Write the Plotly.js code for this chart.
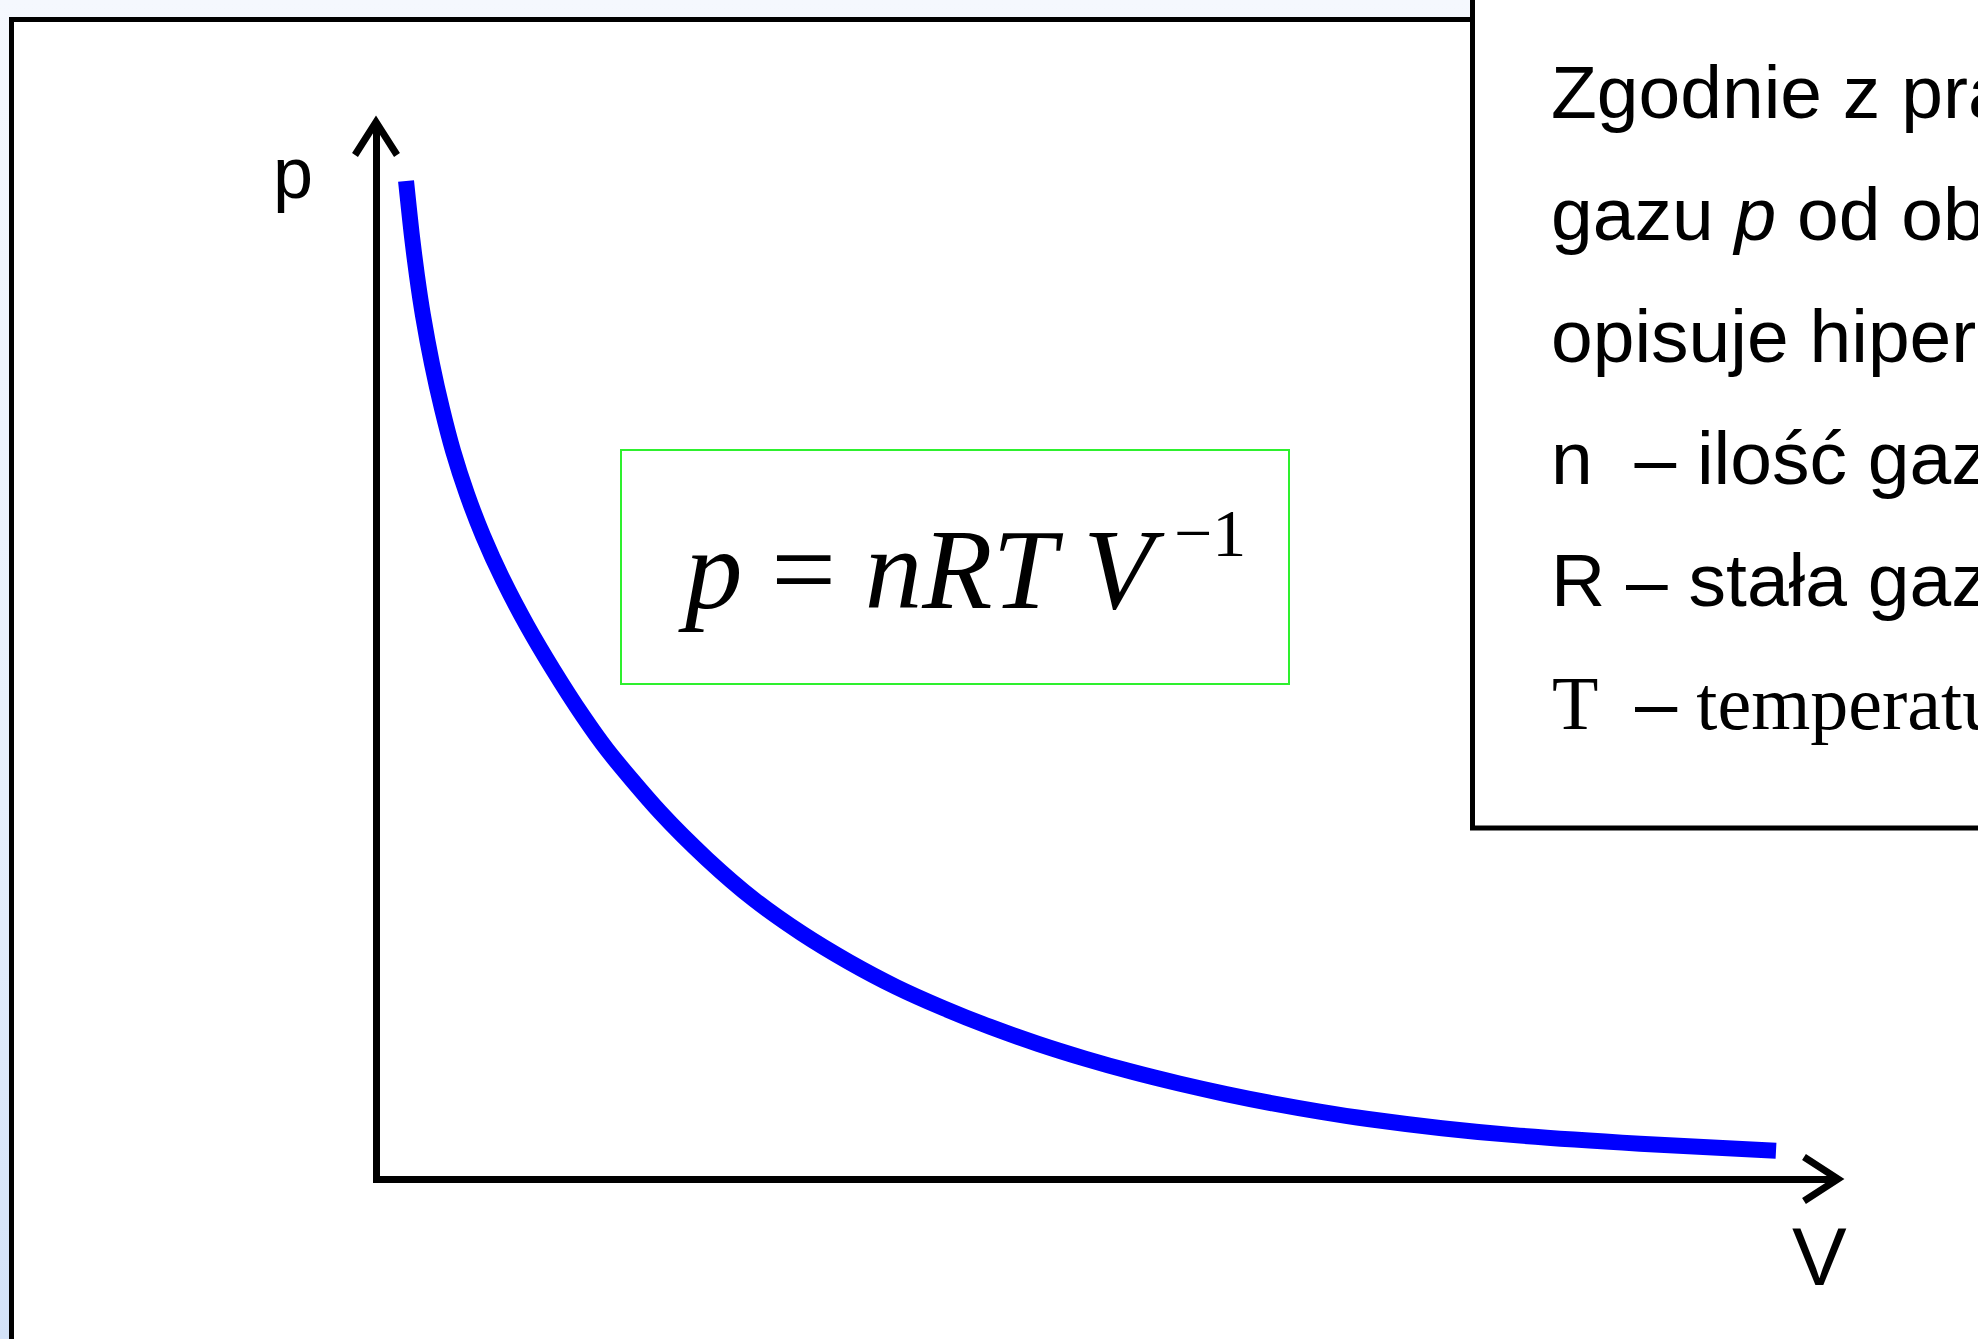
<!DOCTYPE html>
<html>
<head>
<meta charset="utf-8">
<script src="https://cdn.plot.ly/plotly-3.0.1.min.js"></script>
<style>
  html, body { margin: 0; padding: 0; overflow: hidden; }
  body { width: 1978px; height: 1339px; background: linear-gradient(to bottom, #f5f8fe 0%, #e6effc 60%, #d3e2f8 100%); }
  #chart { width: 1978px; height: 1339px; }
</style>
</head>
<body>
<div id="chart"></div>
<script>
// ---- data ----
const volume   = [0.182, 0.223, 0.257, 0.298, 0.360, 0.429, 0.504, 0.600, 0.710, 0.847, 1.011, 1.190, 1.395, 1.560, 1.923, 2.246, 2.568, 2.897, 3.219, 3.541, 3.864, 4.186, 4.515, 4.837, 5.160, 5.482, 5.805, 6.134, 6.456, 6.778, 7.285, 7.779, 8.643, 9.575];
const pressure = [9.440, 8.910, 8.540, 8.164, 7.703, 7.276, 6.879, 6.467, 6.072, 5.654, 5.222, 4.802, 4.361, 4.042, 3.450, 3.004, 2.620, 2.297, 2.027, 1.791, 1.590, 1.411, 1.250, 1.110, 0.984, 0.873, 0.773, 0.682, 0.604, 0.536, 0.449, 0.383, 0.302, 0.234];
const xRange = [0, 10];
const yRange = [0, 10];
const axisLabelY = "p";
const axisLabelX = "V";
const formulaMain = "<i>p</i> = <i>nRT V</i>";
const formulaSup = "−1";
const textLines = [
  "Zgodnie z prawem",
  "gazu <i>p</i> od objętości",
  "opisuje hiperbola",
  "n  – ilość gazu",
  "R – stała gazowa"
];
const lastLine = "T  <span style=\"font-family:'Liberation Sans', Arial, sans-serif\">–</span> temperatura";

// ---- page geometry helpers ----
const W = 1978, H = 1339;
const px = x => x / W;
const py = y => 1 - y / H;
const SANS = "Liberation Sans, Arial, sans-serif";
const SERIF = "Liberation Serif, Times New Roman, serif";
const AXIS_LW = 7;
const xDomain = [px(376 + AXIS_LW / 2), px(1838)];
const yDomain = [py(1179 - AXIS_LW / 2), py(122)];

const trace = {
  x: volume, y: pressure,
  type: "scatter", mode: "lines",
  line: { color: "#0000ff", width: 16, shape: "spline", smoothing: 0.8 },
  hoverinfo: "skip", showlegend: false
};

const shapes = [
  // outer white frame
  { type: "rect", xref: "paper", yref: "paper", layer: "below",
    x0: px(11.5), x1: px(2100), y0: py(19.5), y1: py(1500),
    fillcolor: "#ffffff", line: { color: "#000000", width: 5 } },
  // text box
  { type: "rect", xref: "paper", yref: "paper", layer: "below",
    x0: px(1472.5), x1: px(2100), y0: py(-20), y1: py(828),
    fillcolor: "#ffffff", line: { color: "#000000", width: 5 } },
  // formula box
  { type: "rect", xref: "paper", yref: "paper", layer: "above",
    x0: px(621), x1: px(1289), y0: py(450), y1: py(684),
    fillcolor: "rgba(0,0,0,0)", line: { color: "#2ef02e", width: 2 } },
  // arrow heads at the ends of the axes
  { type: "path", xref: "paper", yref: "paper", xsizemode: "pixel", ysizemode: "pixel",
    xanchor: px(1838), yanchor: py(1179),
    path: "M -34 22 L 0 0 L -34 -22", line: { color: "#000000", width: AXIS_LW } },
  { type: "path", xref: "paper", yref: "paper", xsizemode: "pixel", ysizemode: "pixel",
    xanchor: px(376), yanchor: py(122),
    path: "M -21 -33 L 0 0 L 21 -33", line: { color: "#000000", width: AXIS_LW } }
];

const lineBaselines = [118, 240, 362, 484, 606];
const annotations = [];
textLines.forEach((t, i) => {
  annotations.push({ xref: "paper", yref: "paper", x: px(1549), y: py(lineBaselines[i] - 0.3465 * 75),
    xanchor: "left", yanchor: "middle", showarrow: false, text: t,
    font: { family: SANS, size: 75, color: "#000000" } });
});
annotations.push({ xref: "paper", yref: "paper", x: px(1550), y: py(728 - 0.3375 * 76),
  xanchor: "left", yanchor: "middle", showarrow: false, text: lastLine,
  font: { family: SERIF, size: 76, color: "#000000" } });
annotations.push({ xref: "paper", yref: "paper", x: px(293), y: py(198 - 0.3465 * 72),
  xanchor: "center", yanchor: "middle", showarrow: false, text: axisLabelY,
  font: { family: SANS, size: 72, color: "#000000" } });
annotations.push({ xref: "paper", yref: "paper", x: px(1819), y: py(1285 - 0.3465 * 82),
  xanchor: "center", yanchor: "middle", showarrow: false, text: axisLabelX,
  font: { family: SANS, size: 82, color: "#000000" } });
annotations.push({ xref: "paper", yref: "paper", x: px(676), y: py(608 - 0.3375 * 115),
  xanchor: "left", yanchor: "middle", showarrow: false, text: formulaMain,
  font: { family: SERIF, size: 115, color: "#000000" } });
annotations.push({ xref: "paper", yref: "paper", x: px(1172), y: py(556 - 0.3375 * 68),
  xanchor: "left", yanchor: "middle", showarrow: false, text: formulaSup,
  font: { family: SERIF, size: 68, color: "#000000" } });

const layout = {
  width: W, height: H,
  margin: { l: 0, r: 0, t: 0, b: 0, pad: 0 },
  paper_bgcolor: "rgba(0,0,0,0)",
  plot_bgcolor: "rgba(0,0,0,0)",
  showlegend: false,
  xaxis: { domain: xDomain, range: xRange, showline: true, linewidth: AXIS_LW, linecolor: "#000000",
           showgrid: false, zeroline: false, showticklabels: false, ticks: "", fixedrange: true },
  yaxis: { domain: yDomain, range: yRange, showline: true, linewidth: AXIS_LW, linecolor: "#000000",
           showgrid: false, zeroline: false, showticklabels: false, ticks: "", fixedrange: true },
  shapes: shapes,
  annotations: annotations
};

Plotly.newPlot("chart", [trace], layout, { displayModeBar: false, staticPlot: true });
</script>
</body>
</html>
